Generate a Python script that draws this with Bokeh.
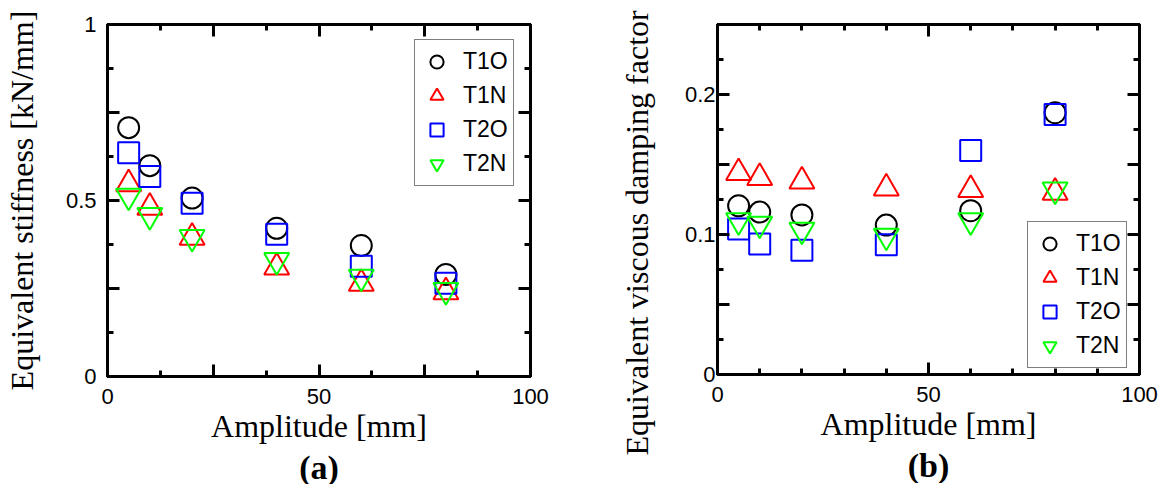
from bokeh.plotting import figure
from bokeh.layouts import row
from bokeh.models import (FixedTicker, LinearAxis, Legend, LegendItem, Range1d, Title)
from bokeh.embed import file_html
from bokeh.resources import INLINE

# ---------------- data ----------------
amplitude = [5, 10, 20, 40, 60, 80]
series_names = ["T1O", "T1N", "T2O", "T2N"]

stiff_T1O = [0.707, 0.599, 0.507, 0.421, 0.372, 0.290]
stiff_T1N = [0.547, 0.480, 0.395, 0.310, 0.264, 0.240]
stiff_T2O = [0.636, 0.568, 0.492, 0.404, 0.313, 0.265]
stiff_T2N = [0.513, 0.458, 0.396, 0.330, 0.283, 0.245]

damp_T1O = [0.1205, 0.116, 0.114, 0.1067, 0.117, 0.187]
damp_T1N = [0.144, 0.1405, 0.138, 0.133, 0.132, 0.130]
damp_T2O = [0.104, 0.0933, 0.0888, 0.0926, 0.160, 0.1857]
damp_T2N = [0.110, 0.1076, 0.1033, 0.099, 0.110, 0.132]

x_major_a = [0, 25, 50, 75, 100]
x_minor_a = [12.5, 37.5, 62.5, 87.5]
x_labels_a = {0: "0", 25: "", 50: "50", 75: "", 100: "100"}
y_major_a = [0, 0.25, 0.5, 0.75, 1.0]
y_minor_a = [0.125, 0.375, 0.625, 0.875]
y_labels_a = {0: "0", 0.25: "", 0.5: "0.5", 0.75: "", 1.0: "1"}

x_major_b = [0, 50, 100]
x_minor_b = [10, 20, 30, 40, 60, 70, 80, 90]
x_labels_b = {0: "0", 50: "50", 100: "100"}
y_major_b = [0, 0.05, 0.1, 0.15, 0.2, 0.25]
y_minor_b = [0.025, 0.075, 0.125, 0.175, 0.225]
y_labels_b = {0: "0", 0.05: "", 0.1: "0.1", 0.15: "", 0.2: "0.2", 0.25: ""}

markers = ["circle", "triangle", "square", "inverted_triangle"]
colors = ["black", "#ff0000", "#0000ff", "#00ff00"]
sizes = [21, 25, 21, 25]

SANS = "Liberation Sans"
SERIF = "Liberation Serif"


def style_axis(ax, major, minor, labels, show_labels, standoff):
    ax.ticker = FixedTicker(ticks=major, minor_ticks=minor)
    ax.axis_line_width = 3
    ax.axis_line_color = "black"
    ax.major_tick_line_color = "black"
    ax.minor_tick_line_color = "black"
    ax.major_tick_line_width = 3
    ax.minor_tick_line_width = 3
    ax.major_tick_in = 12
    ax.major_tick_out = 0
    ax.minor_tick_in = 6
    ax.minor_tick_out = 0
    if show_labels:
        ax.major_label_overrides = labels
        ax.major_label_text_font = SANS
        ax.major_label_text_font_size = "22px"
        ax.major_label_text_color = "black"
        ax.major_label_standoff = standoff
    else:
        ax.major_label_overrides = {k: "" for k in major}
        ax.major_label_text_font_size = "1px"
        ax.major_label_standoff = 0


def make_panel(ys, xr, yr, xt, yt, frame_w, frame_h, mb_left, mb_top, mb_right,
               ylab_standoff, xlabel, ylabel, leg_loc, tag, ylabel_as_title=False,
               ylabel_standoff=23):
    p = figure(frame_width=frame_w, frame_height=frame_h, output_backend="svg",
               toolbar_location=None, x_range=Range1d(*xr), y_range=Range1d(*yr),
               min_border_left=mb_left, min_border_top=mb_top, min_border_right=mb_right,
               min_border_bottom=10)
    p.xgrid.visible = False
    p.ygrid.visible = False
    p.outline_line_color = "black"
    p.outline_line_width = 3
    p.background_fill_color = "white"
    p.border_fill_color = "white"

    xa = p.xaxis[0]
    ya = p.yaxis[0]
    style_axis(xa, xt[0], xt[1], xt[2], True, 12)
    style_axis(ya, yt[0], yt[1], yt[2], True, ylab_standoff)
    top = LinearAxis()
    style_axis(top, xt[0], xt[1], xt[2], False, 0)
    right = LinearAxis()
    style_axis(right, yt[0], yt[1], yt[2], False, 0)
    p.add_layout(top, "above")
    p.add_layout(right, "right")

    xa.axis_label = xlabel
    xa.axis_label_text_font = SERIF
    xa.axis_label_text_font_size = "32px"
    xa.axis_label_text_font_style = "normal"
    xa.axis_label_text_color = "black"
    xa.axis_label_standoff = 1

    if ylabel_as_title:
        t = Title(text=ylabel, align="left", offset=-81, text_font=SERIF,
                  text_font_size="32px", text_font_style="normal",
                  text_color="black", standoff=ylabel_standoff)
        p.add_layout(t, "left")
    else:
        ya.axis_label = ylabel
        ya.axis_label_text_font = SERIF
        ya.axis_label_text_font_size = "32px"
        ya.axis_label_text_font_style = "normal"
        ya.axis_label_text_color = "black"
        ya.axis_label_standoff = ylabel_standoff

    items = []
    for name, yv, m, c, s in zip(series_names, ys, markers, colors, sizes):
        r = p.scatter(amplitude, yv, marker=m, size=s, fill_color=None,
                      line_color=c, line_width=2)
        items.append(LegendItem(label=name, renderers=[r]))

    leg = Legend(items=items, location=leg_loc, glyph_width=33, glyph_height=33,
                 padding=5, spacing=1, label_standoff=10, margin=0,
                 label_text_font=SANS, label_text_font_size="23px",
                 label_text_color="black",
                 border_line_color="black", border_line_width=1.3,
                 background_fill_alpha=1.0)
    p.add_layout(leg)

    p.add_layout(Title(text=tag, align="center", text_font=SERIF,
                       text_font_size="34px", text_font_style="bold",
                       text_color="black", standoff=0),
                 "below")
    return p


p1 = make_panel([stiff_T1O, stiff_T1N, stiff_T2O, stiff_T2N], (0, 100), (0, 1),
                (x_major_a, x_minor_a, x_labels_a), (y_major_a, y_minor_a, y_labels_a),
                423, 352, 105, 23, 60, 11,
                "Amplitude [mm]", "Equivalent stiffness [kN/mm]", (307, 190), "(a)",
                ylabel_standoff=23)

p2 = make_panel([damp_T1O, damp_T1N, damp_T2O, damp_T2N], (0, 100), (0, 0.25),
                (x_major_b, x_minor_b, x_labels_b), (y_major_b, y_minor_b, y_labels_b),
                422, 350, 126, 24, 20, 2,
                "Amplitude [mm]", "Equivalent viscous damping factor", (310, 6), "(b)",
                ylabel_as_title=True, ylabel_standoff=53)

layout = row(p1, p2)
open("out.html", "w").write(file_html(layout, INLINE))
